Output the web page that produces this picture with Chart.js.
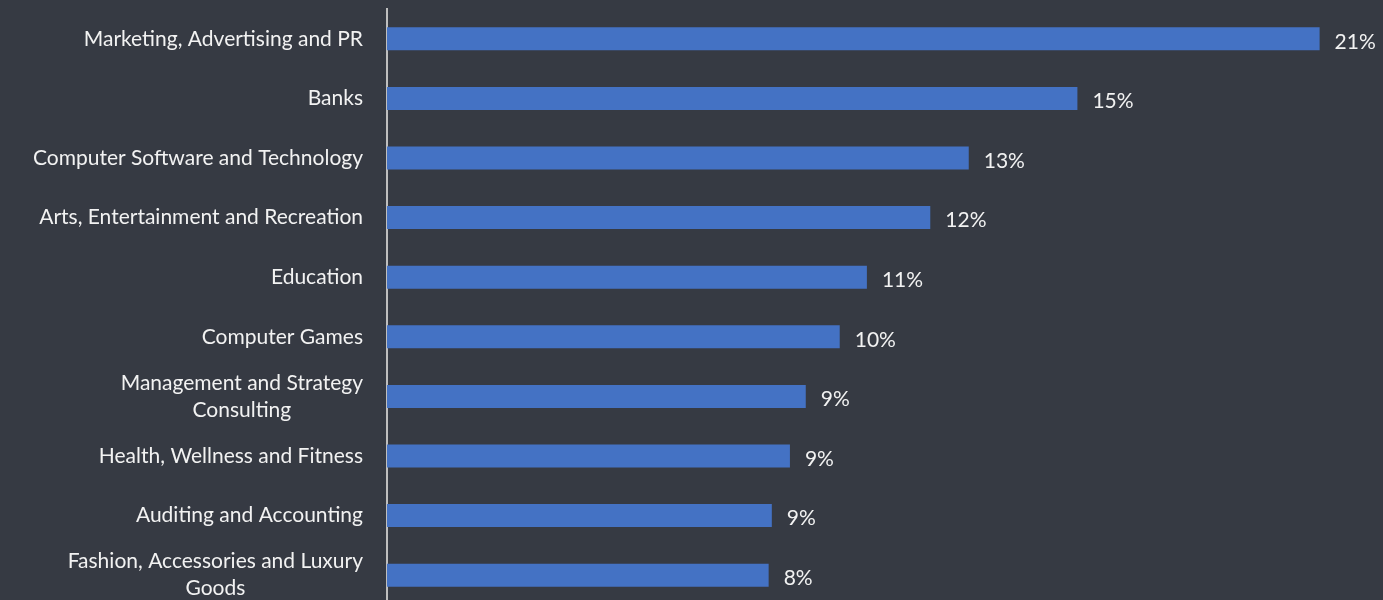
<!DOCTYPE html>
<html>
<head>
<meta charset="utf-8">
<script src="https://cdn.jsdelivr.net/npm/chart.js@4"></script>
<style>
  html, body { margin:0; padding:0; background:#363a43; overflow:hidden; }
  #wrap { position:relative; width:1383px; height:605px; }
</style>
</head>
<body>
<div id="wrap"><canvas id="c"></canvas></div>
<script>
// ── Industries chart ──
const CATEGORIES = [
  ['Marketing, Advertising and PR'],
  ['Banks'],
  ['Computer Software and Technology'],
  ['Arts, Entertainment and Recreation'],
  ['Education'],
  ['Computer Games'],
  ['Management and Strategy', 'Consulting'],
  ['Health, Wellness and Fitness'],
  ['Auditing and Accounting'],
  ['Fashion, Accessories and Luxury', 'Goods'],
];
const VALUES = [20.6, 15.25, 12.85, 12.0, 10.6, 10.0, 9.25, 8.9, 8.5, 8.43];
const X_MAX = 22;

const FONT = '21px Lato, "Open Sans", sans-serif';
const TEXT = '#f2f2f2';
const LABEL_RIGHT = 363;
const AXIS_X = 387;

// category labels: right-aligned block, lines centred within it
const catLabels = {
  id: 'catLabels',
  afterDraw(chart) {
    const y = chart.scales.y, ctx = chart.ctx;
    ctx.save();
    ctx.font = FONT;
    ctx.fillStyle = TEXT;
    ctx.textAlign = 'center';
    ctx.textBaseline = 'middle';
    CATEGORIES.forEach((lines, i) => {
      const cy = y.getPixelForTick(i);
      const w = Math.max(...lines.map(l => ctx.measureText(l).width));
      const cx = LABEL_RIGHT - w / 2;
      const lh = 27;
      const top = cy - (lines.length - 1) * lh / 2;
      lines.forEach((l, j) => ctx.fillText(l, cx, top + j * lh));
    });
    ctx.restore();
  }
};

// value labels at bar ends
const valueLabels = {
  id: 'valueLabels',
  afterDatasetsDraw(chart) {
    const ctx = chart.ctx;
    const meta = chart.getDatasetMeta(0);
    ctx.save();
    ctx.font = FONT;
    ctx.fillStyle = TEXT;
    ctx.textAlign = 'left';
    ctx.textBaseline = 'middle';
    meta.data.forEach((bar, i) => {
      ctx.fillText(Math.round(VALUES[i]) + '%', bar.x + 15, bar.y + 3);
    });
    ctx.restore();
  }
};

new Chart(document.getElementById('c'), {
  type: 'bar',
  data: {
    labels: CATEGORIES.map(l => l.join(' ')),
    datasets: [{
      data: VALUES,
      backgroundColor: '#4472c4',
      borderWidth: 0,
      barPercentage: 0.386,
      categoryPercentage: 1
    }]
  },
  options: {
    indexAxis: 'y',
    responsive: true,
    maintainAspectRatio: false,
    animation: false,
    layout: { padding: { top: 9, bottom: 0, left: 0, right: 0 } },
    plugins: { legend: { display: false }, tooltip: { enabled: false } },
    scales: {
      x: { min: 0, max: X_MAX, display: false },
      y: {
        grid: { display: false, drawTicks: false },
        border: { display: true, color: '#bfbfbf', width: 2 },
        ticks: { display: false },
        afterFit(scale) { scale.width = AXIS_X; }
      }
    }
  },
  plugins: [catLabels, valueLabels]
});
</script>
</body>
</html>
